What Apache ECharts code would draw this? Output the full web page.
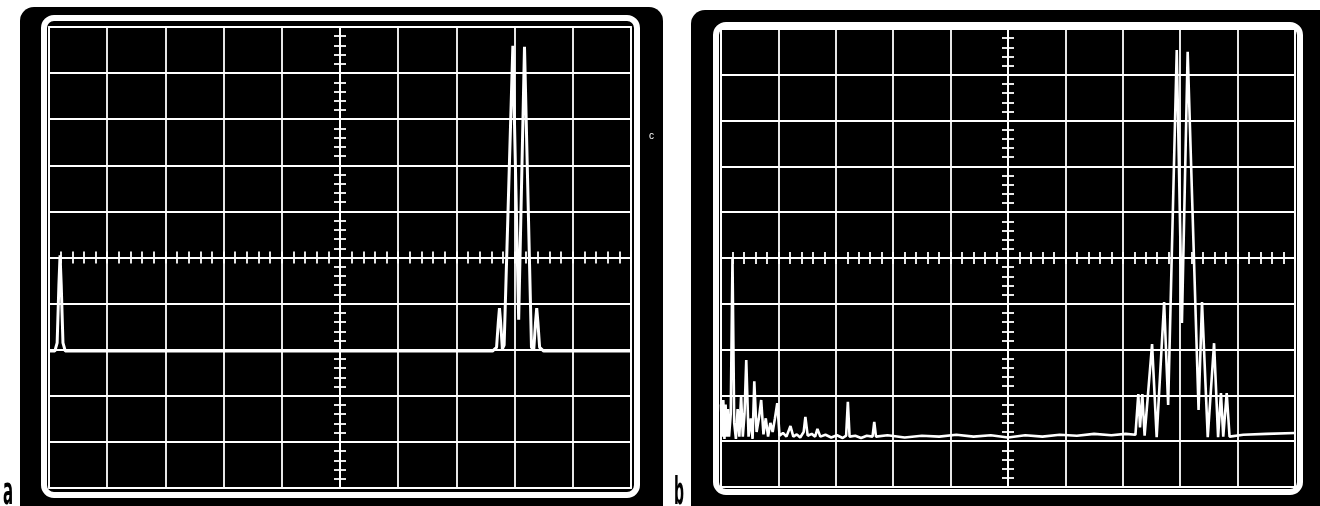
<!DOCTYPE html>
<html>
  <head>
    <meta charset="utf-8" />
    <title>Oscilloscope traces</title>
    <style>
      html, body { margin: 0; padding: 0; background: #fff; }
      #chart-container { width: 1320px; height: 506px; }
    </style>
  </head>
  <body>
    <div id="chart-container"></div>
    <script src="https://cdn.jsdelivr.net/npm/echarts@6/dist/echarts.min.js"></script>
    <script>
      // screen divisions, centre of the graticule = 0
      var traceA = [
        [-5.0, -2.03], [-4.9, -2.03], [-4.86, -1.85], [-4.83, -0.6], [-4.81, 0.05], [-4.79, -0.6],
        [-4.76, -1.85], [-4.72, -2.03], [2.62, -2.03], [2.69, -1.95], [2.72, -1.4], [2.74, -1.1],
        [2.76, -1.4], [2.79, -1.98], [2.82, -1.9], [2.97, 4.59], [3.07, -1.35], [3.17, 4.57],
        [3.29, -1.95], [3.33, -1.98], [3.36, -1.4], [3.38, -1.1], [3.40, -1.4], [3.43, -1.95],
        [3.5, -2.03], [5.0, -2.03]
      ];
      var traceB = [
        [-5.0, -3.2], [-4.98, -3.9], [-4.96, -3.1], [-4.94, -3.95], [-4.92, -3.2], [-4.90, -3.9],
        [-4.88, -3.3], [-4.86, -3.9], [-4.83, -3.4], [-4.80, 0.0], [-4.77, -3.6], [-4.74, -3.95],
        [-4.71, -3.3], [-4.68, -3.9], [-4.65, -3.0], [-4.62, -3.9], [-4.59, -3.4], [-4.56, -2.23],
        [-4.52, -3.9], [-4.48, -3.5], [-4.45, -3.95], [-4.42, -2.69], [-4.38, -3.8], [-4.34, -3.5],
        [-4.30, -3.10], [-4.26, -3.85], [-4.22, -3.5], [-4.18, -3.9], [-4.14, -3.6], [-4.10, -3.8],
        [-4.06, -3.5], [-4.02, -3.17], [-3.98, -3.88], [-3.92, -3.82], [-3.86, -3.9], [-3.79, -3.67],
        [-3.74, -3.9], [-3.68, -3.85], [-3.62, -3.92], [-3.56, -3.8], [-3.53, -3.47], [-3.49, -3.88],
        [-3.42, -3.84], [-3.36, -3.9], [-3.32, -3.73], [-3.27, -3.9], [-3.18, -3.86], [-3.08, -3.92],
        [-2.98, -3.87], [-2.88, -3.93], [-2.82, -3.88], [-2.79, -3.14], [-2.76, -3.9], [-2.66, -3.88],
        [-2.56, -3.93], [-2.46, -3.88], [-2.36, -3.9], [-2.33, -3.58], [-2.30, -3.9], [-2.1, -3.87],
        [-1.8, -3.92], [-1.5, -3.88], [-1.2, -3.9], [-0.9, -3.86], [-0.6, -3.9], [-0.3, -3.87],
        [0, -3.92], [0.3, -3.87], [0.6, -3.9], [0.9, -3.86], [1.2, -3.88], [1.5, -3.84],
        [1.8, -3.87], [2.05, -3.84], [2.22, -3.86], [2.27, -2.97], [2.30, -3.7], [2.34, -2.97],
        [2.38, -3.88], [2.51, -1.88], [2.59, -3.91], [2.72, -0.96], [2.79, -3.21], [2.94, 4.54],
        [3.03, -1.42], [3.13, 4.50], [3.32, -3.32], [3.38, -0.96], [3.48, -3.91], [3.59, -1.86],
        [3.66, -3.91], [3.71, -2.95], [3.75, -3.9], [3.81, -2.95], [3.86, -3.9], [4.1, -3.86],
        [4.5, -3.84], [5.0, -3.82]
      ];
      var panelLabels = ["a", "b"];

      var dom = document.getElementById("chart-container");
      var myChart = echarts.init(dom, null, { renderer: "canvas" });

      var white = { color: "#fff", width: 1.8 };

      function xAxisFor(gi, pos, grid) {
        return {
          gridIndex: gi, type: "value", min: -5, max: 5, interval: 1, position: pos,
          axisLine: { onZero: true, lineStyle: white },
          axisTick: { show: true, length: 6, lineStyle: white },
          minorTick: { show: true, splitNumber: 5, length: 6, lineStyle: white },
          axisLabel: { show: false },
          splitLine: { show: grid, lineStyle: white }
        };
      }
      function yAxisFor(gi, pos, grid) {
        return {
          gridIndex: gi, type: "value", min: -5, max: 5, interval: 1, position: pos,
          axisLine: { onZero: true, lineStyle: white },
          axisTick: { show: true, length: 6, lineStyle: white },
          minorTick: { show: true, splitNumber: 5, length: 6, lineStyle: white },
          axisLabel: { show: false },
          splitLine: { show: grid, lineStyle: white }
        };
      }

      var option = {
        animation: false,
        backgroundColor: "#fff",
        graphic: [
          // scope bezels
          { type: "rect", z: -10, shape: { x: 20, y: 7, width: 643, height: 520, r: 14 }, style: { fill: "#000" } },
          { type: "rect", z: -10, shape: { x: 691, y: 10, width: 650, height: 520, r: 14 }, style: { fill: "#000" } },
          { type: "rect", z: -9, shape: { x: 44, y: 18, width: 593, height: 477, r: 10 }, style: { fill: "#000", stroke: "#fff", lineWidth: 6 } },
          { type: "rect", z: -9, shape: { x: 716, y: 25, width: 584, height: 467, r: 10 }, style: { fill: "#000", stroke: "#fff", lineWidth: 6 } },
          { type: "text", x: 3, y: 513, scaleX: 0.45, style: { text: panelLabels[0], font: 'bold 37px "DejaVu Sans Condensed"', fill: "#000", verticalAlign: "bottom", align: "left" } },
          { type: "text", x: 674, y: 513, scaleX: 0.42, style: { text: panelLabels[1], font: 'bold 37px "DejaVu Sans Condensed"', fill: "#000", verticalAlign: "bottom", align: "left" } },
          { type: "text", x: 649, y: 131, style: { text: "c", font: "10px sans-serif", fill: "#fff" } }
        ],
        grid: [
          { left: 49, top: 27, width: 582, height: 461, show: true, backgroundColor: "#000", borderColor: "#fff", borderWidth: 1.8 },
          { left: 721, top: 29, width: 574, height: 458, show: true, backgroundColor: "#000", borderColor: "#fff", borderWidth: 1.8 }
        ],
        xAxis: [xAxisFor(0, "bottom", true), xAxisFor(0, "top", false), xAxisFor(1, "bottom", true), xAxisFor(1, "top", false)],
        yAxis: [yAxisFor(0, "left", true), yAxisFor(0, "right", false), yAxisFor(1, "left", true), yAxisFor(1, "right", false)],
        series: [
          { type: "line", xAxisIndex: 0, yAxisIndex: 0, data: traceA, showSymbol: false, lineStyle: { color: "#fff", width: 3 } },
          { type: "line", xAxisIndex: 2, yAxisIndex: 2, data: traceB, showSymbol: false, lineStyle: { color: "#fff", width: 2.6 } }
        ]
      };
      myChart.setOption(option);
    </script>
  </body>
</html>
